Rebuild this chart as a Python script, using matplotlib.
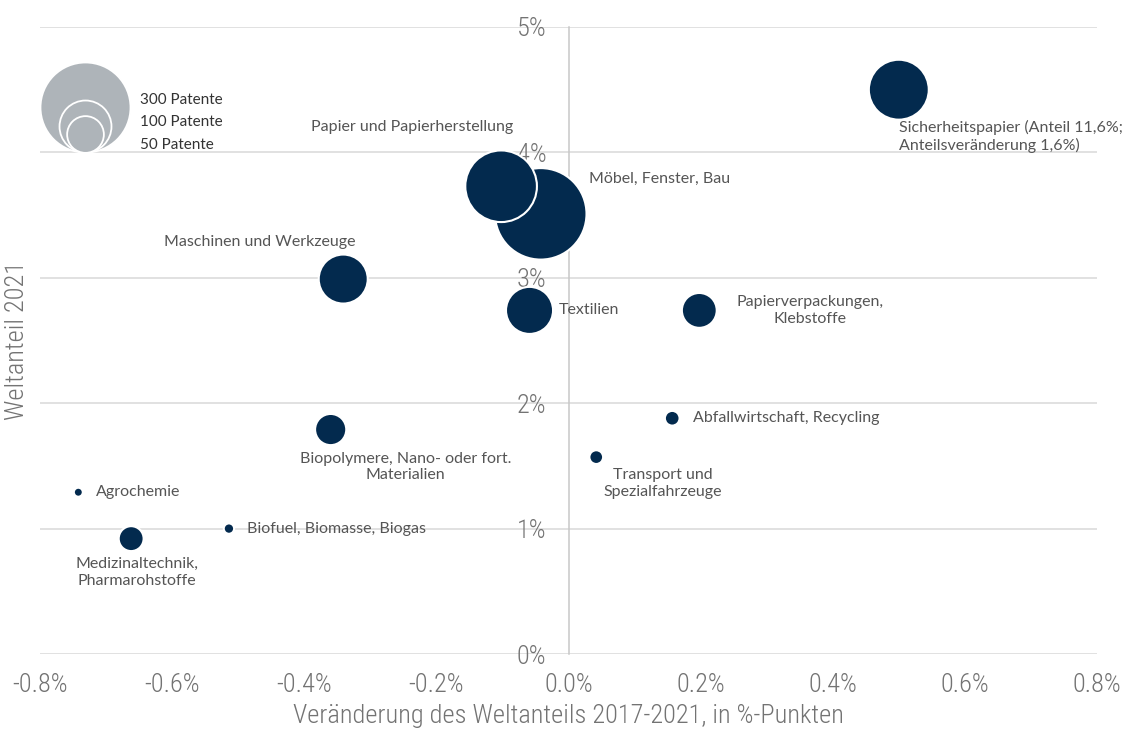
import matplotlib
matplotlib.use("Agg")
import matplotlib.pyplot as plt
import matplotlib.transforms as mtransforms
from matplotlib import font_manager
import numpy as np

# ---------------- data ----------------
categories = [
    "Sicherheitspapier (Anteil 11,6%;\nAnteilsveränderung 1,6%)",
    "Papier und Papierherstellung",
    "Möbel, Fenster, Bau",
    "Maschinen und Werkzeuge",
    "Textilien",
    "Papierverpackungen,\nKlebstoffe",
    "Abfallwirtschaft, Recycling",
    "Transport und\nSpezialfahrzeuge",
    "Biopolymere, Nano- oder fort.\nMaterialien",
    "Agrochemie",
    "Biofuel, Biomasse, Biogas",
    "Medizinaltechnik,\nPharmarohstoffe",
]
share_change = [0.500, -0.102, -0.042, -0.341, -0.059, 0.198, 0.157, 0.042, -0.360, -0.742, -0.514, -0.662]
world_share = [4.50, 3.73, 3.51, 2.99, 2.74, 2.74, 1.88, 1.57, 1.79, 1.29, 1.00, 0.92]
patents = [133, 190, 310, 89, 82, 45, 8, 7, 36, 3, 4, 23]

legend_sizes = [300, 100, 50]
legend_labels = ["300 Patente", "100 Patente", "50 Patente"]

xticks = [-0.8, -0.6, -0.4, -0.2, 0.0, 0.2, 0.4, 0.6, 0.8]
xticklabels = ["-0.8%", "-0.6%", "-0.4%", "-0.2%", "0.0%", "0.2%", "0.4%", "0.6%", "0.8%"]
yticks = [0, 1, 2, 3, 4, 5]
yticklabels = ["0%", "1%", "2%", "3%", "4%", "5%"]

xlabel = "Veränderung des Weltanteils 2017-2021, in %-Punkten"
ylabel = "Weltanteil 2021"

# label placement: (dx, dy) in points, ha, va
label_style = [
    ((0, -22), "left", "top"),
    ((-64, 42.5), "center", "center"),
    ((35, 25), "left", "center"),
    ((-60, 27), "center", "center"),
    ((21, 0), "left", "center"),
    ((79.5, 0), "center", "center"),
    ((15, 0), "left", "center"),
    ((48, -19), "center", "center"),
    ((54, -27), "center", "center"),
    ((12.6, 0), "left", "center"),
    ((13, 0), "left", "center"),
    ((4, -24.5), "center", "center"),
]

# ---------------- fonts ----------------
available = {f.name for f in font_manager.fontManager.ttflist}
def pick(*names):
    for n in names:
        if n in available:
            return n
    return "DejaVu Sans"

axis_font = pick("Liberation Sans Narrow", "Roboto Condensed", "Open Sans Condensed", "Liberation Sans")
label_font = pick("Lato", "Open Sans", "Noto Sans")

NAVY = "#032a4e"
GREY_LEG = "#aeb4b9"
TXT = "#555555"
AXTXT = "#737373"
SCALE = 14.0  # marker area (pt^2) per patent
LBL_FS = 11.5

fig = plt.figure(figsize=(11.30, 7.31), dpi=100)
ax = fig.add_axes([40 / 1130, 77 / 731, 1057 / 1130, 627 / 731])
ax.set_xlim(-0.8, 0.8)
ax.set_ylim(0, 5)

# grid lines (below bubbles)
ax.hlines(yticks, -0.8, 0.8, color="#d9d9d9", lw=1.1, zorder=0)

for s in ["top", "right", "bottom"]:
    ax.spines[s].set_visible(False)
ax.spines["left"].set_position(("data", 0))
ax.spines["left"].set_color("#c8c8c8")
ax.spines["left"].set_linewidth(1.1)
ax.spines["left"].set_zorder(0.5)

ax.set_xticks(xticks)
ax.set_xticklabels(xticklabels)
ax.set_yticks(yticks)
ax.set_yticklabels(yticklabels)
ax.tick_params(axis="both", length=0, labelcolor=AXTXT, labelsize=19)
ax.tick_params(axis="x", pad=14)
ax.tick_params(axis="y", pad=16)
for lab in ax.get_xticklabels() + ax.get_yticklabels():
    lab.set_fontfamily(axis_font)
    lab.set_fontweight("light")

ax.set_xlabel(xlabel, fontsize=19, color=AXTXT, family=axis_font, fontweight="light")
ax.xaxis.set_label_coords(0.5, (654 - 716) / 627)
ax.xaxis.label.set_va("center")
ax.set_ylabel(ylabel, fontsize=19, color=AXTXT, family=axis_font, fontweight="light")
ax.yaxis.set_label_coords((17 - 40) / 1057, (654 - 340) / 627)
ax.yaxis.label.set_va("center")
ax.yaxis.label.set_ha("center")

# bubbles, largest first
x = np.array(share_change)
y = np.array(world_share)
p = np.array(patents, dtype=float)
order = np.argsort(-p)
ax.scatter(x[order], y[order], s=p[order] * SCALE, color=NAVY,
           edgecolors="white", linewidths=1.5, zorder=2)

for i, name in enumerate(categories):
    (dx, dy), ha, va = label_style[i]
    ax.annotate(name, (x[i], y[i]), xytext=(dx, dy), textcoords="offset points",
                ha=ha, va=va, multialignment=ha,
                fontsize=LBL_FS, color=TXT, family=label_font, zorder=3,
                linespacing=1.25)

# size legend (bubbles resting on the 4% line near the left edge)
leg_x = -0.732
leg_base = 4.0
for sz in legend_sizes:
    area = sz * SCALE
    r_pt = np.sqrt(area) / 2
    off = mtransforms.ScaledTranslation(0, r_pt / 72, fig.dpi_scale_trans)
    ax.scatter([leg_x], [leg_base], s=area, color=GREY_LEG, edgecolors="white",
               linewidths=1.3, transform=ax.transData + off, zorder=2)

leg_text_y = [(654 - 100) / 627, (654 - 122) / 627, (654 - 145) / 627]
for lbl, ty in zip(legend_labels, leg_text_y):
    ax.text((140 - 40) / 1057, ty, lbl, transform=ax.transAxes, ha="left", va="center",
            fontsize=11, color="#333333", family=label_font, zorder=3)

fig.savefig("out.png", dpi=100)
